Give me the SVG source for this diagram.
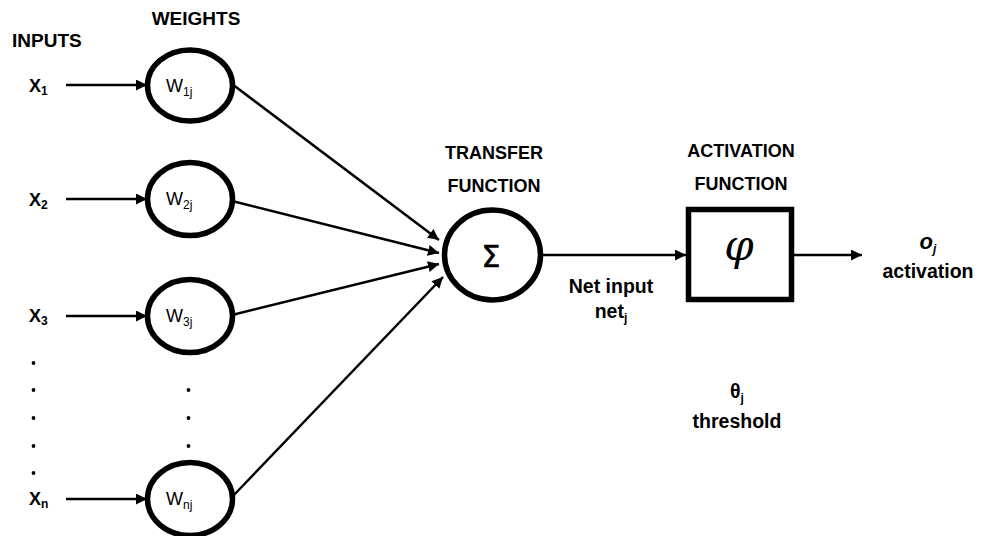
<svg xmlns="http://www.w3.org/2000/svg" width="988" height="536" viewBox="0 0 988 536">
<style>
.t{font-family:"Liberation Sans",Arial,sans-serif;font-weight:bold;font-size:18px;fill:#000}
.l{font-size:19.5px}
.x{font-family:"Liberation Sans",Arial,sans-serif;font-weight:bold;font-size:18px;fill:#000}
.w{font-family:"Liberation Sans",Arial,sans-serif;font-size:18px;fill:#000}
.sub{font-size:12px}
.n{fill:#fff;stroke:#000;stroke-width:5.5}
.c{stroke:#000;stroke-width:2.5;fill:none}
</style>
<defs>
<marker id="ah" viewBox="0 0 10 10" refX="10" refY="5" markerWidth="4.6" markerHeight="4.4" markerUnits="strokeWidth" orient="auto">
<path d="M0,0 L10,5 L0,10 z" fill="#000"/>
</marker>
</defs>
<g id="labels">
<text class="t" x="12" y="47" style="font-size:19px">INPUTS</text>
<text class="t" x="196" y="25" text-anchor="middle" style="font-size:19px">WEIGHTS</text>
<text class="t" x="494" y="159" text-anchor="middle">TRANSFER</text>
<text class="t" x="494" y="192" text-anchor="middle">FUNCTION</text>
<text class="t" x="741" y="157" text-anchor="middle">ACTIVATION</text>
<text class="t" x="741" y="190" text-anchor="middle">FUNCTION</text>
<text class="t l" x="611" y="293" text-anchor="middle">Net input</text>
<text class="t l" x="611" y="318" text-anchor="middle">net<tspan class="sub" dy="4">j</tspan></text>
<text class="t l" x="737" y="398" text-anchor="middle">θ<tspan class="sub" dy="4">j</tspan></text>
<text class="t l" x="737" y="428" text-anchor="middle">threshold</text>
<text class="t" x="928" y="249" text-anchor="middle" style="font-size:22px;font-style:italic">o<tspan class="sub" dy="4">j</tspan></text>
<text class="t l" x="928" y="278" text-anchor="middle">activation</text>
</g>
<g id="inputs">
<text class="x" x="29" y="92">X<tspan class="sub" dy="3">1</tspan></text>
<text class="x" x="29" y="206">X<tspan class="sub" dy="3">2</tspan></text>
<text class="x" x="29" y="322">X<tspan class="sub" dy="3">3</tspan></text>
<text class="x" x="29" y="505">X<tspan class="sub" dy="3">n</tspan></text>
<g fill="#000">
<circle cx="33.5" cy="363" r="1.9"/><circle cx="33.5" cy="390" r="1.9"/><circle cx="33.5" cy="418" r="1.9"/><circle cx="33.5" cy="446" r="1.9"/><circle cx="33.5" cy="473" r="1.9"/>
<circle cx="188.5" cy="390" r="1.9"/><circle cx="188.5" cy="418" r="1.9"/><circle cx="188.5" cy="446" r="1.9"/>
</g>
</g>
<g id="connectors">
<line class="c" x1="66" y1="85" x2="147" y2="85" marker-end="url(#ah)"/>
<line class="c" x1="66" y1="199" x2="147" y2="199" marker-end="url(#ah)"/>
<line class="c" x1="66" y1="316" x2="147" y2="316" marker-end="url(#ah)"/>
<line class="c" x1="66" y1="499" x2="147" y2="499" marker-end="url(#ah)"/>
<line class="c" x1="232" y1="84" x2="439" y2="240" marker-end="url(#ah)"/>
<line class="c" x1="232" y1="201" x2="439" y2="253" marker-end="url(#ah)"/>
<line class="c" x1="232" y1="315" x2="439" y2="264" marker-end="url(#ah)"/>
<line class="c" x1="232" y1="497" x2="443" y2="277" marker-end="url(#ah)"/>
<line class="c" x1="543" y1="255" x2="686" y2="255" marker-end="url(#ah)"/>
<line class="c" x1="794" y1="255" x2="862" y2="255" marker-end="url(#ah)"/>
</g>
<g id="w1"><ellipse class="n" cx="190" cy="85.5" rx="42.5" ry="35.5"/><text class="w" x="166" y="92">W<tspan class="sub" dy="4">1j</tspan></text></g>
<g id="w2"><ellipse class="n" cx="190" cy="199" rx="42.5" ry="36.5"/><text class="w" x="166" y="205">W<tspan class="sub" dy="4">2j</tspan></text></g>
<g id="w3"><ellipse class="n" cx="190" cy="316" rx="42.5" ry="36.5"/><text class="w" x="166" y="322">W<tspan class="sub" dy="4">3j</tspan></text></g>
<g id="wn"><ellipse class="n" cx="190" cy="499" rx="42.5" ry="36.5"/><text class="w" x="166" y="505">W<tspan class="sub" dy="4">nj</tspan></text></g>
<g id="sum"><ellipse class="n" cx="492.5" cy="255" rx="48" ry="45"/><text x="491" y="267" text-anchor="middle" font-family="'DejaVu Sans',sans-serif" font-size="30" stroke="#000" stroke-width="0.6">Σ</text></g>
<g id="act"><rect class="n" x="688.5" y="209.5" width="103" height="90"/><text x="739" y="260" text-anchor="middle" font-family="'DejaVu Serif',serif" font-style="italic" font-size="42">φ</text></g>
</svg>
